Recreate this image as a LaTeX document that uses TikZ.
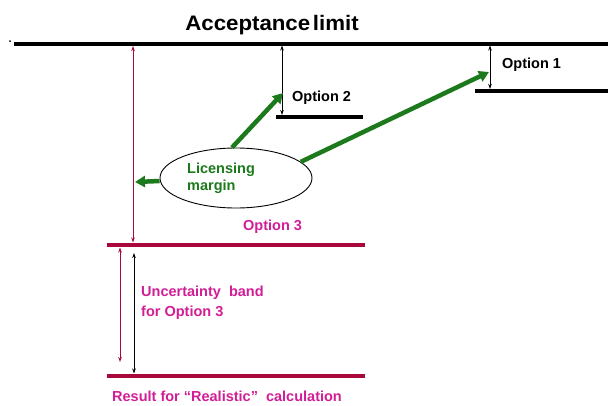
\documentclass[tikz,border=0pt]{standalone}
\usepackage{fontspec}
\setmainfont{Liberation Sans}
\usetikzlibrary{arrows.meta,shapes.geometric}
\definecolor{dred}{HTML}{A8083A}
\definecolor{mag}{HTML}{D21E96}
\definecolor{dgreen}{HTML}{1C7A1C}
\begin{document}
\begin{tikzpicture}[x=1pt,y=-1pt,
  level/.style={line width=3.5pt},
  redlevel/.style={line width=4.5pt,dred},
  dim/.style={line width=0.9pt,{Stealth[length=5pt,width=3.5pt]}-{Stealth[length=5pt,width=3.5pt]}},
  reddim/.style={dim,dred},
  garrow/.style={line width=4.5pt,dgreen,-{Triangle[length=10pt,width=11pt]}},
  lbl/.style={font=\bfseries\fontsize{14.5}{19}\selectfont,inner sep=0pt,anchor=west},
  maglbl/.style={lbl,mag,align=left}]
\useasboundingbox (0,0) rectangle (608,405);
% acceptance limit
\coordinate (accL) at (14,44);
\coordinate (accR) at (608,44);
\draw[level] (accL) -- (accR);
\fill (10,41) circle (1pt);
\node[font=\bfseries\fontsize{21}{24}\selectfont,inner sep=0pt] (acc) at (272,25) {\scalebox{1.06}[1]{Acceptance\hspace{0.12em}limit}};
% option 1
\coordinate (o1L) at (475,91);
\coordinate (o1R) at (608,91);
\draw[level] (o1L) -- (o1R);
\coordinate (o1top) at (490,45.5);
\coordinate (o1bot) at (490,89);
\draw[dim] (o1top) -- (o1bot);
\node[lbl] (o1) at (502,65) {Option 1};
% option 2
\coordinate (o2L) at (276,117);
\coordinate (o2R) at (363,117);
\draw[level] (o2L) -- (o2R);
\coordinate (o2top) at (282,45.5);
\coordinate (o2bot) at (282,115);
\draw[dim] (o2top) -- (o2bot);
\node[lbl] (o2) at (292,98) {Option 2};
% option 3
\coordinate (o3L) at (107,245);
\coordinate (o3R) at (365,245);
\draw[redlevel] (o3L) -- (o3R);
\coordinate (realL) at (107,376);
\coordinate (realR) at (365,376);
\draw[redlevel] (realL) -- (realR);
\coordinate (r1top) at (133,46);
\coordinate (r1bot) at (133,242.5);
\draw[reddim] (r1top) -- (r1bot);
\node[maglbl] (o3) at (243,227) {Option 3};
\coordinate (r2top) at (120,247.5);
\coordinate (r2bot) at (120,362);
\draw[reddim] (r2top) -- (r2bot);
\coordinate (b2top) at (134,253);
\coordinate (b2bot) at (134,373.5);
\draw[dim] (b2top) -- (b2bot);
\node[maglbl,font=\bfseries\fontsize{14.5}{20}\selectfont] (unc) at (141,303) {Uncertainty\ \ band\\for Option 3};
\node[maglbl] (res) at (112,396) {Result for \textquotedblleft Realistic\textquotedblright\ \ calculation};
% licensing margin
\node[draw,ellipse,line width=0.9pt,minimum width=152pt,minimum height=60pt,inner sep=0pt] (lm) at (236,178) {};
\node[lbl,dgreen,align=left,font=\bfseries\fontsize{14.5}{17}\selectfont] (lmt) at (187,178) {Licensing\\margin};
\coordinate (g1tip) at (283,93);
\coordinate (g2tip) at (489,72);
\coordinate (g3tip) at (135,182);
\draw[garrow] (lm.north) ++(-4,0) coordinate (g1s) (g1s) -- (g1tip);
\draw[garrow] (lm.14) -- (g2tip);
\draw[garrow] (lm.west) ++(0,3) coordinate (g3s) (g3s) -- (g3tip);
\end{tikzpicture}
\end{document}
